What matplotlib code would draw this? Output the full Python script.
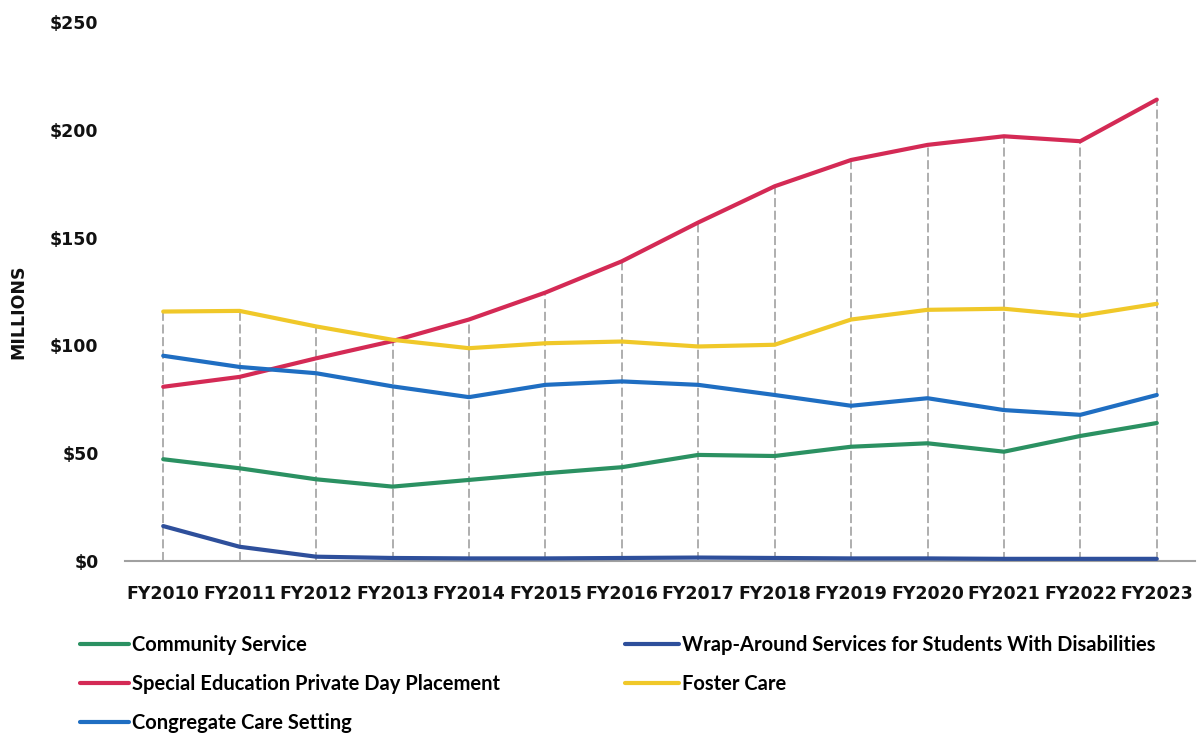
import matplotlib
matplotlib.use("Agg")
import matplotlib.pyplot as plt
import numpy as np

years = ["FY2010", "FY2011", "FY2012", "FY2013", "FY2014", "FY2015", "FY2016",
         "FY2017", "FY2018", "FY2019", "FY2020", "FY2021", "FY2022", "FY2023"]

community_service = [47.2, 43.0, 37.9, 34.5, 37.6, 40.7, 43.5, 49.2, 48.7, 53.0, 54.6, 50.7, 58.0, 64.0]
special_ed_private_day = [80.8, 85.4, 94.0, 102.0, 112.0, 124.5, 139.0, 157.0, 173.8, 186.0, 193.0, 197.0, 194.7, 214.0]
congregate_care = [95.2, 90.0, 87.1, 81.0, 76.0, 81.7, 83.3, 81.7, 77.0, 72.0, 75.5, 70.0, 67.8, 77.0]
wrap_around = [16.2, 6.6, 2.0, 1.4, 1.2, 1.2, 1.4, 1.6, 1.4, 1.2, 1.2, 1.0, 1.0, 1.0]
foster_care = [115.7, 116.0, 108.8, 102.6, 98.7, 101.0, 101.8, 99.5, 100.3, 112.0, 116.5, 117.0, 113.7, 119.3]

series_names = ["Community Service", "Special Education Private Day Placement",
                "Congregate Care Setting", "Wrap-Around Services for Students With Disabilities",
                "Foster Care"]
series_values = [community_service, special_ed_private_day, congregate_care, wrap_around, foster_care]
series_colors = ["#2B9162", "#D42A55", "#1F6EC2", "#2E4F9B", "#F0C829"]

y_ticks = [0, 50, 100, 150, 200, 250]
y_labels = ["$0", "$50", "$100", "$150", "$200", "$250"]

W, H = 1202, 739
fig = plt.figure(figsize=(W / 100, H / 100), dpi=100)
ax = fig.add_axes([125 / W, 1 - 561 / H, (1195 - 125) / W, (561 - 22) / H])

x = np.arange(len(years))

# drop lines from the highest series down to the axis
tops = np.max(np.array(series_values), axis=0)
ax.vlines(x, 0, tops, colors="#a8a8a8", linewidth=1.3, linestyles=(0, (5, 2)), zorder=1)

handles = []
for name, vals, col in zip(series_names, series_values, series_colors):
    h, = ax.plot(x, vals, color=col, linewidth=3.0, label=name, zorder=3,
                 solid_capstyle="round", solid_joinstyle="round")
    handles.append(h)

ax.set_xlim(-0.5, 13.5)
ax.set_ylim(0, 250)
ax.set_xticks(x)
ax.set_xticklabels(years, fontsize=12.5, fontweight="bold", color="#111111")
ax.set_yticks(y_ticks)
ax.set_yticklabels(y_labels, fontsize=12.5, fontweight="bold", color="#111111")
ax.tick_params(axis="both", length=0)
ax.tick_params(axis="x", pad=17)
ax.tick_params(axis="y", pad=19)
for s in ["top", "right", "left"]:
    ax.spines[s].set_visible(False)
ax.spines["bottom"].set_color("#a0a0a0")
ax.spines["bottom"].set_linewidth(1.5)

fig.text(18 / W, 1 - 312 / H, "MILLIONS", rotation=90, ha="center", va="center",
         fontsize=12.5, fontweight="bold", color="#111111")

leg_font = {"family": ["Lato", "DejaVu Sans"], "weight": "bold", "size": 14.5}
leg1 = fig.legend(handles=handles[:3], labels=series_names[:3], loc="upper left",
                  bbox_to_anchor=(80 / W, 1 - 635 / H), frameon=False, prop=leg_font,
                  borderpad=0, borderaxespad=0, handlelength=2.45, handletextpad=0.12,
                  labelspacing=0.95)
leg2 = fig.legend(handles=handles[3:], labels=series_names[3:], loc="upper left",
                  bbox_to_anchor=(625 / W, 1 - 635 / H), frameon=False, prop=leg_font,
                  borderpad=0, borderaxespad=0, handlelength=2.7, handletextpad=0.12,
                  labelspacing=0.95)

fig.savefig("out.png", dpi=100)
